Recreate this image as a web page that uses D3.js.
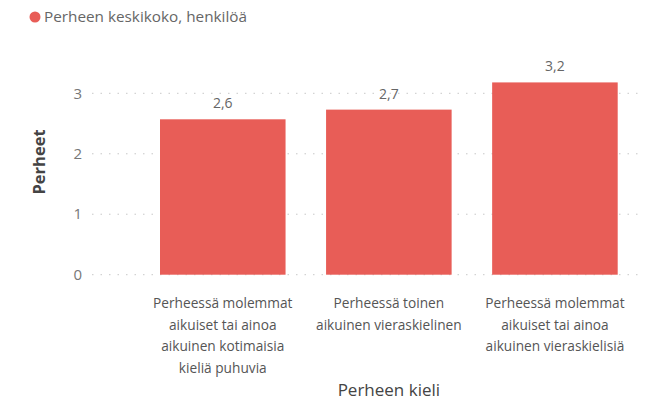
<!DOCTYPE html>
<html><head><meta charset="utf-8">
<script src="https://cdn.jsdelivr.net/npm/d3@7"></script>
<style>body{margin:0;background:#fff;font-family:"Segoe UI","Open Sans",sans-serif;}</style>
</head><body><svg id="c" width="654" height="404"></svg>
<script>
const categories = [
  ["Perheessä molemmat","aikuiset tai ainoa","aikuinen kotimaisia","kieliä puhuvia"],
  ["Perheessä toinen","aikuinen vieraskielinen"],
  ["Perheessä molemmat","aikuiset tai ainoa","aikuinen vieraskielisiä"]
];
const values = [2.57, 2.73, 3.18];
const valueLabels = ["2,6", "2,7", "3,2"];
const yTicks = [0, 1, 2, 3];
const seriesName = "Perheen keskikoko, henkilöä";
const xTitle = "Perheen kieli";
const yTitle = "Perheet";

const svg = d3.select("#c");
const font = '"Segoe UI","Open Sans",sans-serif';
const x = d3.scaleBand().domain(d3.range(categories.length))
  .range([160, 617.7]).paddingInner(0.244).paddingOuter(0);
const y = d3.scaleLinear().domain([0, 3]).range([274.7, 93.3]);

// gridlines
svg.append("g").selectAll("line").data(yTicks).join("line")
  .attr("x1", 92).attr("x2", 640)
  .attr("y1", d => y(d)).attr("y2", d => y(d))
  .attr("stroke", "#c8c8c8").attr("stroke-width", 1).attr("stroke-dasharray", "1.5,7");

// y tick labels
svg.append("g").selectAll("text").data(yTicks).join("text")
  .attr("x", 82).attr("y", d => y(d)).attr("dy", "0.35em")
  .attr("text-anchor", "end").attr("font-family", font).attr("font-size", 15)
  .attr("fill", "#777").text(d => d);

// bars
svg.append("g").selectAll("rect").data(values).join("rect")
  .attr("x", (d, i) => x(i)).attr("width", x.bandwidth())
  .attr("y", d => y(d)).attr("height", d => y(0) - y(d))
  .attr("fill", "#E85D57");

// value labels
svg.append("g").selectAll("text").data(values).join("text")
  .attr("x", (d, i) => x(i) + x.bandwidth() / 2).attr("y", d => y(d) - 11)
  .attr("text-anchor", "middle").attr("font-family", font).attr("font-size", 14)
  .attr("fill", "#666").text((d, i) => valueLabels[i]);

// category labels
const cg = svg.append("g");
categories.forEach((lines, i) => {
  const t = cg.append("text").attr("text-anchor", "middle").attr("font-family", font)
    .attr("font-size", 13.7).attr("fill", "#555");
  lines.forEach((ln, j) => {
    t.append("tspan").attr("x", x(i) + x.bandwidth() / 2).attr("y", 308 + j * 21.5).text(ln);
  });
});

// axis titles
svg.append("text").attr("x", (x.range()[0] + x.range()[1]) / 2).attr("y", 396)
  .attr("text-anchor", "middle").attr("font-family", font).attr("font-size", 17)
  .attr("fill", "#444").text(xTitle);
svg.append("text").attr("transform", "translate(45,162) rotate(-90)")
  .attr("text-anchor", "middle").attr("font-family", font).attr("font-size", 16.5)
  .attr("font-weight", "bold").attr("fill", "#444").text(yTitle);

// legend
svg.append("circle").attr("cx", 35).attr("cy", 17).attr("r", 5.5).attr("fill", "#E85D57");
svg.append("text").attr("x", 44).attr("y", 17).attr("dy", "0.35em")
  .attr("font-family", font).attr("font-size", 15.3).attr("fill", "#666").text(seriesName);
</script></body></html>
